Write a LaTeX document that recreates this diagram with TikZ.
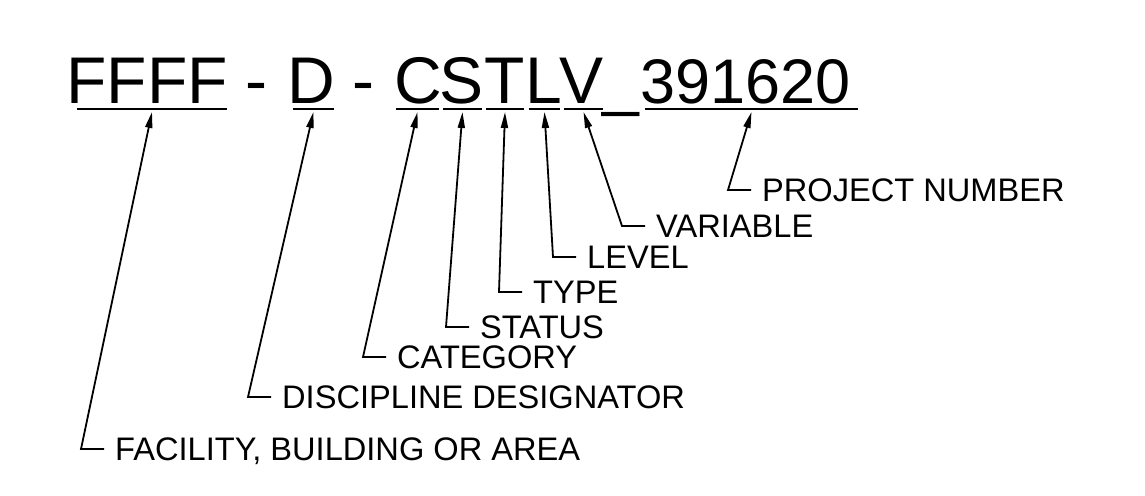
\documentclass[tikz,border=0pt]{standalone}
\usepackage{fontspec}
\setmainfont{Liberation Sans}
\usetikzlibrary{arrows.meta, calc}
\tikzset{
  code/.style={font=\fontsize{66}{66}\selectfont, inner sep=0pt, anchor=base},
  digits/.style={code, font=\fontsize{63}{63}\selectfont},
  field/.style={font=\fontsize{32.6}{32.6}\selectfont, inner sep=0pt, anchor=base west},
  underbar/.style={line width=2.6pt},
  leader/.style={
    -{Triangle[length=16pt,width=7pt]},
    line width=1.8pt
  }
}

\begin{document}
\begin{tikzpicture}[x=1pt, y=-1pt]
\useasboundingbox (0,0) rectangle (1145,495);

% sheet name
\node[code] (ffff) at (147,103) {FFFF};
\node[code] (dash1) at (256,103) {-};
\node[code] (disc) at (311,103) {D};
\node[code] (dash2) at (363.5,103) {-};
\node[code] (cat) at (418.5,103) {C};
\node[code] (stat) at (462,103) {S};
\node[code] (type) at (505,103) {T};
\node[code] (lev) at (543.5,103) {L};
\node[code] (var) at (581.7,103) {V};
\node[code] (sep) at (621,103) {\_};
\node[digits] (proj) at (745.5,103) {391620};

% underlines, one per field
\foreach \n/\a/\b in {ffff/77/227, disc/293/334, cat/396/439, stat/443/482,
                      type/486/524, lev/529/560, var/564/603, proj/645/858}{
  \draw[underbar] (\a,109) -- (\b,109);
  \coordinate (\n-u) at ({(\a+\b)/2},112);
}

% field names
\node[field] (facility) at (115,460.5) {FACILITY, BUILDING OR AREA};
\node[field] (discipline) at (282,408.5) {DISCIPLINE DESIGNATOR};
\node[field] (category) at (397,368.5) {CATEGORY};
\node[field] (status) at (480,338.5) {STATUS};
\node[field] (typ) at (533,303.5) {TYPE};
\node[field] (level) at (587,268.5) {LEVEL};
\node[field] (variable) at (656,237.5) {VARIABLE};
\node[field] (project) at (762,201.5) {PROJECT NUMBER};

% leaders
\foreach \lbl/\n in {facility/ffff, discipline/disc, category/cat, status/stat,
                     typ/type, level/lev, variable/var, project/proj}{
  \draw[leader] ($(\lbl.base west)+(-11,-11.5)$) -- ++(-23,0) -- (\n-u);
}

\end{tikzpicture}
\end{document}
